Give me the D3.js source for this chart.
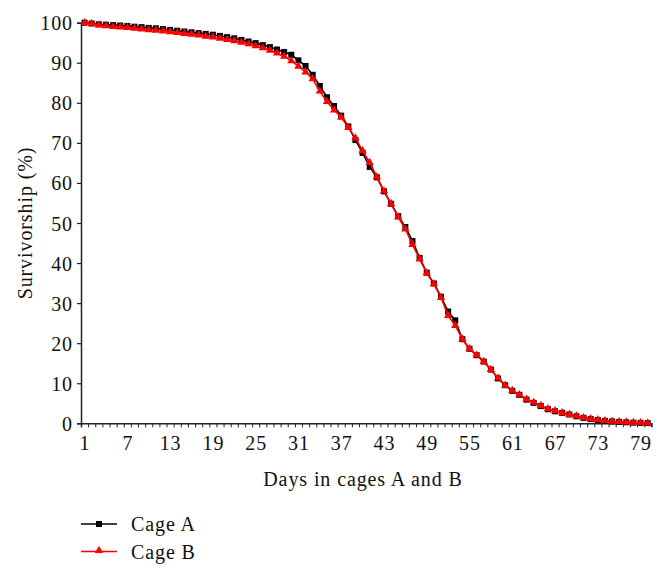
<!DOCTYPE html>
<html>
<head>
<meta charset="utf-8">
<script src="https://cdn.jsdelivr.net/npm/d3@7"></script>
<style>
  html, body { margin: 0; padding: 0; background: #fff; }
  svg { display: block; }
  text { font-family: "Liberation Serif", "DejaVu Serif", serif; fill: #111; letter-spacing: 0.9px; }
</style>
</head>
<body>
<svg id="chart" width="665" height="576"></svg>
<script>
const days = d3.range(1, 81);
const cageA = [100, 99.8, 99.6, 99.5, 99.4, 99.3, 99.2, 99.0, 98.9, 98.7,
  98.6, 98.4, 98.2, 98.0, 97.8, 97.6, 97.4, 97.2, 97.0, 96.7,
  96.4, 96.1, 95.7, 95.3, 94.9, 94.4, 93.9, 93.3, 92.7, 92.0,
  90.6, 89.2, 87.0, 84.2, 81.4, 79.2, 76.8, 74.1, 70.7, 67.5,
  64.0, 61.4, 57.9, 54.8, 51.7, 49.0, 45.5, 41.3, 37.6, 34.9,
  31.6, 27.9, 25.7, 21.0, 18.6, 17.0, 15.4, 13.4, 11.2, 9.5,
  8.1, 7.1, 5.9, 5.1, 4.3, 3.5, 3.0, 2.6, 2.2, 1.75,
  1.35, 1.05, 0.8, 0.6, 0.45, 0.35, 0.25, 0.15, 0.1, 0.05];
const cageB = [100, 99.7, 99.4, 99.2, 99.0, 98.9, 98.8, 98.6, 98.4, 98.2,
  98.1, 97.9, 97.7, 97.5, 97.3, 97.1, 96.9, 96.6, 96.4, 96.1,
  95.8, 95.5, 95.1, 94.7, 94.2, 93.7, 93.1, 92.4, 91.6, 90.5,
  89.1, 87.7, 86.0, 82.9, 80.3, 78.2, 76.4, 73.8, 71.2, 68.0,
  65.1, 61.5, 58.0, 54.8, 51.5, 48.5, 44.6, 41.0, 37.5, 34.8,
  31.4, 26.9, 24.4, 21.0, 18.6, 17.0, 15.4, 13.4, 11.3, 9.5,
  8.2, 7.1, 6.0, 5.2, 4.4, 3.6, 3.1, 2.6, 2.2, 1.8,
  1.4, 1.1, 0.85, 0.65, 0.5, 0.4, 0.3, 0.2, 0.15, 0.05];
const xTickLabels = [1, 7, 13, 19, 25, 31, 37, 43, 49, 55, 61, 67, 73, 79];
const yTicks = [0, 10, 20, 30, 40, 50, 60, 70, 80, 90, 100];
const seriesNames = ["Cage A", "Cage B"];
const xTitle = "Days in cages A and B";
const yTitle = "Survivorship (%)";

const svg = d3.select("#chart");
const pLeft = 81, pRight = 651.3, pTop = 22.7, pBottom = 423.3;
const x = d3.scaleLinear().domain([0.5, 80.5]).range([pLeft, pRight]);
const y = d3.scaleLinear().domain([0, 100]).range([pBottom, pTop]);
const FS = 20;

// Y axis
const yAxis = svg.append("g").attr("transform", `translate(${pLeft},0)`)
  .call(d3.axisLeft(y).tickValues(yTicks).tickSize(4).tickPadding(4).tickFormat(d3.format("d")));
yAxis.select(".domain").attr("stroke", "#222").attr("stroke-width", 1.5);
yAxis.selectAll(".tick line").attr("stroke", "#222").attr("stroke-width", 1.2);
yAxis.selectAll("text").style("font-size", FS + "px").attr("fill", "#111").attr("dy", "0.35em");

// X axis: minor ticks at category boundaries
const xAxisTicks = svg.append("g").attr("transform", `translate(0,${pBottom})`)
  .call(d3.axisBottom(x).tickValues(d3.range(0.5, 81, 1)).tickSize(4).tickFormat(""));
xAxisTicks.select(".domain").attr("stroke", "#222").attr("stroke-width", 1.5);
xAxisTicks.selectAll(".tick line").attr("stroke", "#222").attr("stroke-width", 1);
const xAxisLabels = svg.append("g").attr("transform", `translate(0,${pBottom})`)
  .call(d3.axisBottom(x).tickValues(xTickLabels).tickSize(0).tickPadding(13).tickFormat(d3.format("d")));
xAxisLabels.select(".domain").remove();
xAxisLabels.selectAll("text").style("font-size", FS + "px").attr("fill", "#111");

// Titles
svg.append("text").attr("x", (265 + 461) / 2).attr("y", 486)
  .attr("text-anchor", "middle").style("font-size", FS + "px").text(xTitle);
svg.append("text").attr("transform", "translate(32,223) rotate(-90)")
  .attr("text-anchor", "middle").style("font-size", FS + "px").text(yTitle);

// Series
const line = d3.line().x((d, i) => x(days[i])).y(d => y(d));
const triangle = d3.symbol().type(d3.symbolTriangle).size(30);

svg.append("path").datum(cageA).attr("d", line)
  .attr("fill", "none").attr("stroke", "#000").attr("stroke-width", 1.6);
svg.append("g").selectAll("rect").data(cageA).join("rect")
  .attr("x", (d, i) => x(days[i]) - 3).attr("y", d => y(d) - 3)
  .attr("width", 6).attr("height", 6).attr("fill", "#000");

svg.append("path").datum(cageB).attr("d", line)
  .attr("fill", "none").attr("stroke", "#f00").attr("stroke-width", 1.6);
svg.append("g").selectAll("path").data(cageB).join("path")
  .attr("d", triangle)
  .attr("transform", (d, i) => `translate(${x(days[i])},${y(d)})`)
  .attr("fill", "#f00");

// Legend
const legend = svg.append("g");
const legendRows = [
  { name: seriesNames[0], color: "#000", marker: "square", y: 524 },
  { name: seriesNames[1], color: "#f00", marker: "triangle", y: 551.5 }
];
legendRows.forEach(r => {
  legend.append("line").attr("x1", 81).attr("x2", 117).attr("y1", r.y).attr("y2", r.y)
    .attr("stroke", r.color).attr("stroke-width", 1.6);
  if (r.marker === "square") {
    legend.append("rect").attr("x", 99 - 3).attr("y", r.y - 3).attr("width", 6).attr("height", 6).attr("fill", r.color);
  } else {
    legend.append("path").attr("d", triangle).attr("transform", `translate(99,${r.y - 1})`).attr("fill", r.color);
  }
  legend.append("text").attr("x", 131).attr("y", r.y + 7).style("font-size", FS + "px").text(r.name);
});
</script>
</body>
</html>
